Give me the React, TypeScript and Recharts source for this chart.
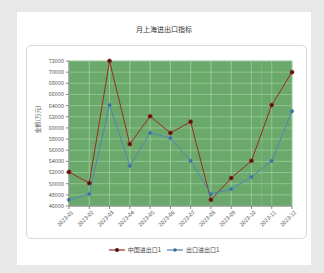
import { LineChart, Line, XAxis, YAxis, CartesianGrid } from "recharts";

const months = ["2023-01", "2023-02", "2023-03", "2023-04", "2023-05", "2023-06", "2023-07", "2023-08", "2023-09", "2023-10", "2023-11", "2023-12"];
const seriesA = [52100, 50100, 72000, 57100, 62100, 59100, 61100, 47100, 51000, 54100, 64100, 70000];
const seriesB = [47100, 48150, 64100, 53200, 59100, 58200, 54100, 48150, 49050, 51200, 54100, 63000];
const yTicks = [46000, 48000, 50000, 52000, 54000, 56000, 58000, 60000, 62000, 64000, 66000, 68000, 70000, 72000];
const yMinor = [46000, 47000, 48000, 49000, 50000, 51000, 52000, 53000, 54000, 55000, 56000, 57000, 58000, 59000, 60000, 61000, 62000, 63000, 64000, 65000, 66000, 67000, 68000, 69000, 70000, 71000, 72000];
const xMinor = [0, 0.5, 1, 1.5, 2, 2.5, 3, 3.5, 4, 4.5, 5, 5.5, 6, 6.5, 7, 7.5, 8, 8.5, 9, 9.5, 10, 10.5, 11];

const data = months.map((m, i) => ({ month: m, idx: i, a: seriesA[i], b: seriesB[i] }));

const RED = "#9c2a22";
const BLUE = "#4d86b8";

export default function App() {
  return (
    <div style={{ position: "fixed", left: 0, top: 0, width: 324, height: 273, background: "#e8e8e8", fontFamily: "'Noto Sans CJK SC', 'Noto Sans', sans-serif" }}>
      <div style={{ position: "absolute", left: 17, top: 12, width: 294, height: 253, background: "#fff" }} />
      <div style={{ position: "absolute", left: 17, top: 24, width: 294, textAlign: "center", fontSize: 7, color: "#333" }}>月上海进出口指标</div>
      <div style={{ position: "absolute", left: 26, top: 45, width: 279, height: 192, border: "1px solid #d8d8d8", borderRadius: 5, background: "#fff" }} />
      <div style={{ position: "absolute", left: 26, top: 45 }}>
        <LineChart width={281} height={194} data={data} margin={{ top: 16, right: 15, left: 0, bottom: 0 }}>
          <CartesianGrid xAxisId="minor" yAxisId="minor" stroke="#88bd88" strokeWidth={0.6} fill="#6aa96b" fillOpacity={1} />
          <CartesianGrid stroke="#a2cfa2" strokeWidth={0.7} />
          <XAxis xAxisId="minor" dataKey="idx" type="number" domain={[0, 11]} ticks={xMinor} hide />
          <YAxis yAxisId="minor" domain={[46000, 72000]} ticks={yMinor} hide />
          <XAxis
            dataKey="month"
            height={33}
            interval={0}
            scale="point"
            tick={{ fontSize: 5.5, fill: "#555", angle: -45, textAnchor: "end", dx: 2, dy: -1 }}
            tickSize={3}
            stroke="#888"
          />
          <YAxis
            width={43}
            domain={[46000, 72000]}
            ticks={yTicks}
            interval={0}
            tick={{ fontSize: 5.5, fill: "#555" }}
            tickSize={3}
            stroke="#888"
            label={{ value: "金额(万元)", angle: -90, position: "insideLeft", offset: 12, fontSize: 6, fill: "#555" }}
          />
          <Line dataKey="a" stroke={RED} strokeWidth={1} dot={{ r: 2, fill: "#4a1410", stroke: RED, strokeWidth: 0.8 }} isAnimationActive={false} />
          <Line dataKey="b" stroke={BLUE} strokeWidth={1} dot={{ r: 1.8, fill: "#3d6f9a", stroke: BLUE, strokeWidth: 0.6 }} isAnimationActive={false} />
        </LineChart>
      </div>
      <div style={{ position: "absolute", left: 17, top: 245, width: 294, display: "flex", justifyContent: "center", alignItems: "center", fontSize: 6, color: "#444", gap: 6 }}>
        <span style={{ display: "flex", alignItems: "center", gap: 3 }}>
          <svg width={16} height={6}><line x1={0} y1={3} x2={16} y2={3} stroke={RED} strokeWidth={1.2} /><circle cx={8} cy={3} r={2} fill="#4a1410" /></svg>
          中国进出口1
        </span>
        <span style={{ display: "flex", alignItems: "center", gap: 3 }}>
          <svg width={16} height={6}><line x1={0} y1={3} x2={16} y2={3} stroke={BLUE} strokeWidth={1.2} /><circle cx={8} cy={3} r={1.8} fill="#3d6f9a" /></svg>
          出口进出口1
        </span>
      </div>
    </div>
  );
}
